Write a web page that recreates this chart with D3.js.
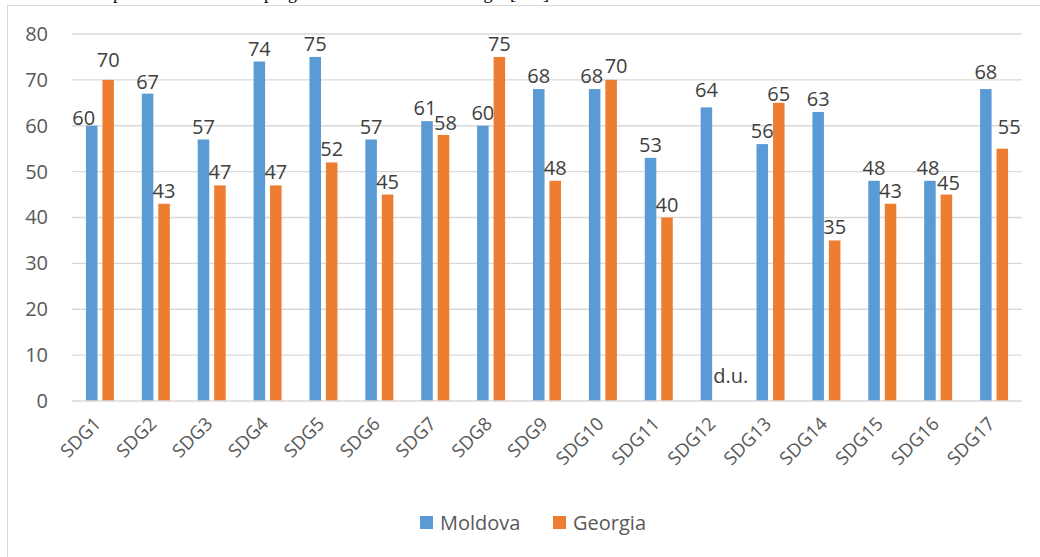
<!DOCTYPE html>
<html><head><meta charset="utf-8">
<script src="https://cdn.jsdelivr.net/npm/d3@7"></script>
<style>body{margin:0;background:#fff}svg{display:block}</style>
</head><body>
<svg id="c" width="1040" height="557"></svg>
<script>
const categories = ["SDG1","SDG2","SDG3","SDG4","SDG5","SDG6","SDG7","SDG8","SDG9","SDG10","SDG11","SDG12","SDG13","SDG14","SDG15","SDG16","SDG17"];
const moldova = [60,67,57,74,75,57,61,60,68,68,53,64,56,63,48,48,68];
const georgia = [70,43,47,47,52,45,58,75,48,70,40,null,65,35,43,45,55];
const seriesNames = ["Moldova","Georgia"];
const seriesColors = ["#5b9bd5","#ed7d31"];
const yTicks = [0,10,20,30,40,50,60,70,80];
const missingLabel = "d.u.";
const captionText = "Comparison of the SDGs progress in Moldova and Georgia [125]";

// label placement tweaks (layout only), keyed "series-index"
const labelNudge = {
  "0-0":[-8,5], "1-0":[0,-6.5], "0-1":[0,1.5],
  "0-6":[-2,0], "1-6":[2,1],
  "0-9":[-3,0], "1-9":[5,-1], "0-11":[0,-4],
  "1-12":[0,4], "0-15":[-2,0], "1-15":[2,1],
  "0-16":[0,-4], "1-16":[7,-9], "1-11":[8,0]
};

const svg = d3.select("#c");
const font = "'Open Sans', 'Noto Sans', sans-serif";

// caption fragment, cut at the top edge as in the source
svg.append("text").attr("x",78).attr("y",-1).attr("font-family","'Liberation Serif', serif")
  .attr("font-size",18).attr("fill","#000").text(captionText);

// chart frame
svg.append("rect").attr("x",7.5).attr("y",5.5).attr("width",1040).attr("height",560)
  .attr("fill","#fff").attr("stroke","#d9d9d9").attr("stroke-width",1);

const x = d3.scaleBand().domain(categories).range([72,1022]).padding(0);
const y = d3.scaleLinear().domain([0,80]).range([401,34]);

// gridlines
svg.append("g").selectAll("line").data(yTicks.filter(d=>d>0)).join("line")
  .attr("x1",72).attr("x2",1022).attr("y1",d=>y(d)).attr("y2",d=>y(d))
  .attr("stroke","#d9d9d9").attr("stroke-width",1.3);

// y axis labels
const yAxis = d3.axisLeft(y).tickValues(yTicks).tickSize(0).tickPadding(24);
const gy = svg.append("g").attr("transform","translate(72,0)").call(yAxis);
gy.select(".domain").remove();
gy.selectAll("text").attr("font-family",font).attr("font-size",20).attr("fill","#595959");

const inner = d3.scaleBand().domain(seriesNames).range([-14,14]).paddingInner(0.3);
const data = [moldova, georgia];

data.forEach((vals, si) => {
  const g = svg.append("g");
  g.selectAll("rect").data(categories).join("rect")
    .attr("x", c => x(c) + x.bandwidth()/2 + inner(seriesNames[si]))
    .attr("width", inner.bandwidth())
    .attr("y", (c,i) => vals[i]==null ? y(0) : y(vals[i]))
    .attr("height", (c,i) => vals[i]==null ? 0 : y(0)-y(vals[i]))
    .attr("fill", seriesColors[si]);
  g.selectAll("text").data(categories).join("text")
    .attr("x", (c,i) => x(c) + x.bandwidth()/2 + inner(seriesNames[si]) + inner.bandwidth()/2 + (labelNudge[si+"-"+i]||[0,0])[0])
    .attr("y", (c,i) => (vals[i]==null ? y(0)-18 : y(vals[i]) - 6) + (labelNudge[si+"-"+i]||[0,0])[1])
    .attr("text-anchor","middle")
    .attr("font-family",font).attr("font-size",20).attr("fill","#404040")
    .text((c,i) => vals[i]==null ? missingLabel : vals[i]);
});

// x axis line
svg.append("line").attr("x1",72).attr("x2",1022).attr("y1",y(0)).attr("y2",y(0))
  .attr("stroke","#d9d9d9").attr("stroke-width",1.3);

// x labels rotated
const xAxis = d3.axisBottom(x).tickSize(0).tickPadding(0);
const gx = svg.append("g").attr("transform",`translate(0,${y(0)})`).call(xAxis);
gx.select(".domain").remove();
gx.selectAll("text").attr("font-family",font).attr("font-size",18.5).attr("fill","#595959")
  .attr("text-anchor","end").attr("dy",0)
  .attr("transform","translate(2,24) rotate(-45)");

// legend
const lg = svg.append("g");
const legendX = [420, 553];
seriesNames.forEach((n,i)=>{
  lg.append("rect").attr("x",legendX[i]).attr("y",516).attr("width",13).attr("height",13).attr("fill",seriesColors[i]);
  lg.append("text").attr("x",legendX[i]+20).attr("y",530).attr("font-family",font).attr("font-size",20)
    .attr("fill","#595959").text(n);
});
</script>
</body></html>
